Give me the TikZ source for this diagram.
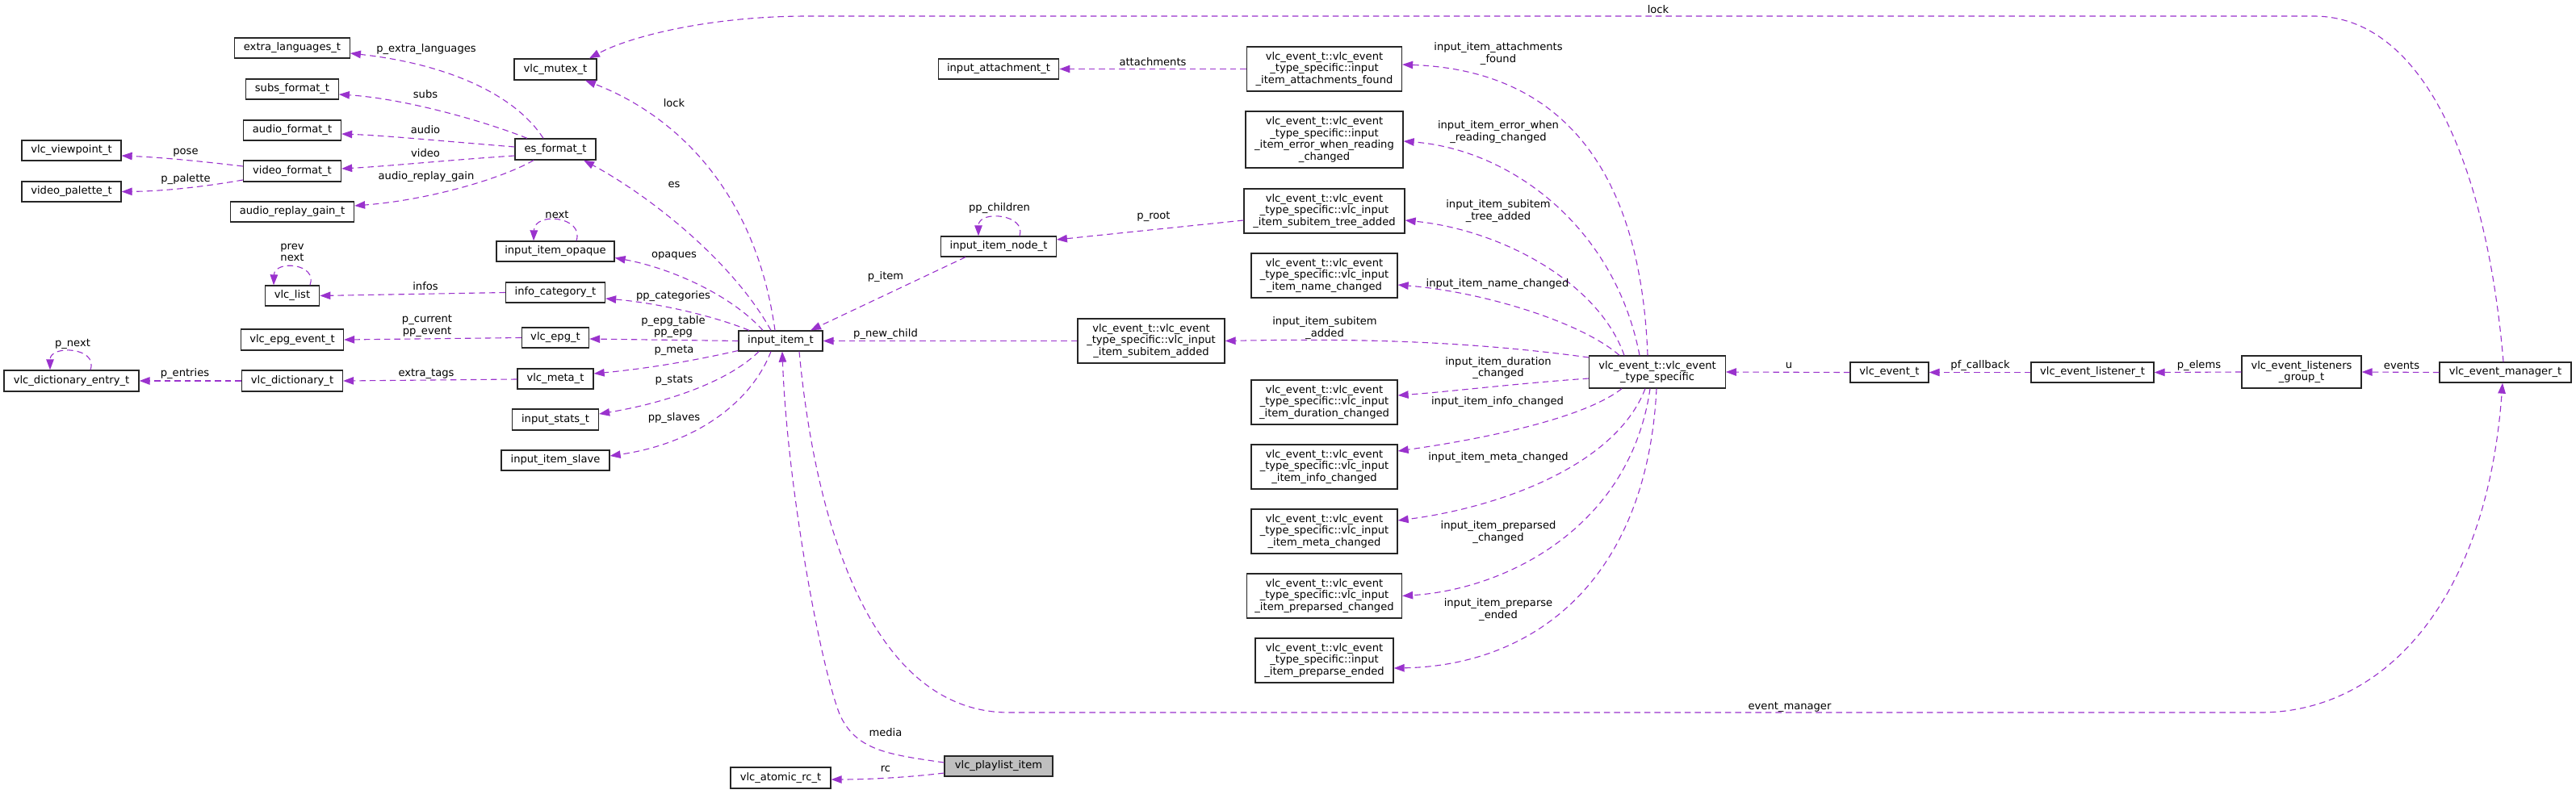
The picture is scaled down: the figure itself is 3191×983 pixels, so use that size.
\documentclass[tikz,border=0pt]{standalone}
\usepackage{fontspec}
\setmainfont{DejaVu Sans}
\usetikzlibrary{arrows.meta}
\definecolor{edgec}{HTML}{9A32CD}
\definecolor{hl}{HTML}{BFBFBF}
\tikzset{
  cls/.style={draw=black!85, line width=1.3pt, fill=white, inner sep=0pt, align=center, font=\fontsize{13.1}{14.7}\selectfont, text=black},
  rel/.style={draw=edgec, line width=1.1pt, dash pattern=on 7.5pt off 5pt, -{Triangle[length=13pt,width=9.5pt]}},
  lbl/.style={font=\fontsize{13.1}{14.7}\selectfont, inner sep=0pt, align=center, text=black},
}
\newcommand{\mybox}[6]{\node[cls, minimum width=#4pt, minimum height=#5pt] (#1) at (#2,#3) {#6};}
\begin{document}
\begin{tikzpicture}[x=1pt,y=-1pt]
\fill[white] (0,0) rectangle (3191,983);
\useasboundingbox (0,0) rectangle (3191,983);
% nodes
\mybox{viewpoint}{88.5}{186.5}{123}{25}{vlc\_viewpoint\_t}
\mybox{palette}{88.5}{237.5}{123}{25}{video\_palette\_t}
\mybox{dentry}{88.5}{472}{167}{26}{vlc\_dictionary\_entry\_t}
\mybox{extra}{362}{59.5}{142.5}{25}{extra\_languages\_t}
\mybox{subs}{362}{110.5}{114.5}{25}{subs\_format\_t}
\mybox{afmt}{362}{161.5}{121}{25}{audio\_format\_t}
\mybox{vfmt}{362}{212}{121}{26}{video\_format\_t}
\mybox{arg}{362}{262.5}{153}{25}{audio\_replay\_gain\_t}
\mybox{vlist}{362}{366.5}{67.5}{25}{vlc\_list}
\mybox{epgev}{362}{421}{127}{26}{vlc\_epg\_event\_t}
\mybox{dict}{362}{472}{125}{26}{vlc\_dictionary\_t}
\mybox{mutex}{688}{86}{102}{26}{vlc\_mutex\_t}
\mybox{es}{688}{185}{100}{26}{es\_format\_t}
\mybox{opaque}{688}{311.5}{146}{25}{input\_item\_opaque}
\mybox{info}{688}{362.5}{123}{25}{info\_category\_t}
\mybox{epg}{688}{418.5}{83}{25}{vlc\_epg\_t}
\mybox{meta}{688}{469.5}{94}{25}{vlc\_meta\_t}
\mybox{stats}{688}{520}{107}{26}{input\_stats\_t}
\mybox{slave}{688}{570.5}{134}{25}{input\_item\_slave}
\mybox{item}{967}{422.5}{104}{25}{input\_item\_t}
\mybox{rc}{967}{964}{124}{26}{vlc\_atomic\_rc\_t}
\mybox{attach}{1237}{85.5}{149.5}{25}{input\_attachment\_t}
\mybox{inode}{1237}{305.5}{142.5}{25}{input\_item\_node\_t}
\node[cls, fill=hl, minimum width=134pt, minimum height=25pt] (playlist) at (1237,949.5) {vlc\_playlist\_item};
\mybox{subadd}{1426}{422.5}{182}{55}{vlc\_event\_t::vlc\_event\\\_type\_specific::vlc\_input\\\_item\_subitem\_added}
\mybox{attfound}{1640.5}{85.5}{192}{55}{vlc\_event\_t::vlc\_event\\\_type\_specific::input\\\_item\_attachments\_found}
\mybox{err}{1640.5}{173}{195}{70}{vlc\_event\_t::vlc\_event\\\_type\_specific::input\\\_item\_error\_when\_reading\\\_changed}
\mybox{tree}{1640.5}{261.5}{199}{55}{vlc\_event\_t::vlc\_event\\\_type\_specific::vlc\_input\\\_item\_subitem\_tree\_added}
\mybox{namech}{1640.5}{341.5}{181}{55}{vlc\_event\_t::vlc\_event\\\_type\_specific::vlc\_input\\\_item\_name\_changed}
\mybox{durch}{1640.5}{498.5}{181}{55}{vlc\_event\_t::vlc\_event\\\_type\_specific::vlc\_input\\\_item\_duration\_changed}
\mybox{infoch}{1640.5}{578.5}{181}{55}{vlc\_event\_t::vlc\_event\\\_type\_specific::vlc\_input\\\_item\_info\_changed}
\mybox{metach}{1640.5}{658.5}{181}{55}{vlc\_event\_t::vlc\_event\\\_type\_specific::vlc\_input\\\_item\_meta\_changed}
\mybox{prepch}{1640.5}{738.5}{192}{55}{vlc\_event\_t::vlc\_event\\\_type\_specific::vlc\_input\\\_item\_preparsed\_changed}
\mybox{prepend}{1640.5}{818.5}{171}{55}{vlc\_event\_t::vlc\_event\\\_type\_specific::input\\\_item\_preparse\_ended}
\mybox{ts}{2053}{461}{168.5}{40}{vlc\_event\_t::vlc\_event\\\_type\_specific}
\mybox{evt}{2340.5}{461.5}{97}{25}{vlc\_event\_t}
\mybox{lst}{2592}{461.5}{152}{25}{vlc\_event\_listener\_t}
\mybox{grp}{2851}{461}{148}{40}{vlc\_event\_listeners\\\_group\_t}
\mybox{mgr}{3103.5}{461.5}{163}{25}{vlc\_event\_manager\_t}
% es_format_t members
\draw[rel] ([xshift=-15pt]es.north) .. controls (640,120) and (560,80) .. ([yshift=-6.5pt]extra.east);
\node[lbl] at (528,61) {p\_extra\_languages};
\draw[rel] ([xshift=-35pt]es.north) .. controls (600,150) and (500,122) .. ([yshift=-6.5pt]subs.east);
\node[lbl] at (527,117) {subs};
\draw[rel] ([yshift=3pt]es.west) .. controls (560,176) and (480,168) .. ([yshift=-4.5pt]afmt.east);
\node[lbl] at (527,161) {audio};
\draw[rel] ([yshift=-8pt]es.west) .. controls (560,198) and (480,206) .. ([yshift=3pt]vfmt.east);
\node[lbl] at (527,190) {video};
\draw[rel] ([xshift=-27pt]es.south) .. controls (620,222) and (530,248) .. ([yshift=7.5pt]arg.east);
\node[lbl] at (528,219) {audio\_replay\_gain};
% video_format_t members
\draw[rel] ([yshift=6pt]vfmt.west) .. controls (250,200) and (200,195) .. ([yshift=-6.5pt]viewpoint.east);
\node[lbl] at (230,189) {pose};
\draw[rel] ([yshift=-11pt]vfmt.west) .. controls (250,232) and (200,237) .. (palette.east);
\node[lbl] at (230,222) {p\_palette};
% self loops
\draw[rel] ([xshift=26pt]opaque.north) .. controls (724,268) and (662,262) .. ([xshift=-27pt]opaque.north);
\node[lbl] at (690,266) {next};
\draw[rel] ([xshift=22pt]vlist.north) .. controls (394,326) and (340,322) .. ([xshift=-23pt]vlist.north);
\node[lbl] at (362,313) {prev\\next};
\draw[rel] ([xshift=23.5pt]dentry.north) .. controls (122,430) and (62,427) .. ([xshift=-26.5pt]dentry.north);
\node[lbl] at (90,426) {p\_next};
\draw[rel] ([xshift=26pt]inode.north) .. controls (1272,265) and (1212,260) .. ([xshift=-25pt]inode.north);
\node[lbl] at (1238,258) {pp\_children};
% column C to B
\draw[rel] (info.west) -- (vlist.east);
\node[lbl] at (527,355) {infos};
\draw[rel] (epg.west) -- (epgev.east);
\node[lbl] at (529,404) {p\_current\\pp\_event};
\draw[rel] (dict.west) -- (dentry.east);
\node[lbl] at (229,463) {p\_entries};
\draw[rel] ([yshift=-0.5pt]meta.west) -- (dict.east);
\node[lbl] at (528,463) {extra\_tags};
% input_item_t members
\draw[rel] ([xshift=-7pt]item.north) .. controls (935,230) and (830,140) .. ([xshift=37pt]mutex.south);
\node[lbl] at (835,128) {lock};
\draw[rel] ([xshift=-12pt]item.north) .. controls (905,320) and (800,240) .. ([xshift=35pt]es.south);
\node[lbl] at (835,229) {es};
\draw[rel] ([xshift=-22pt]item.north) .. controls (905,365) and (830,332) .. ([yshift=-8pt]opaque.east);
\node[lbl] at (835,317) {opaques};
\draw[rel] ([xshift=-39pt]item.north) .. controls (880,390) and (810,375) .. ([yshift=-7.5pt]info.east);
\node[lbl] at (834,367) {pp\_categories};
\draw[rel] (item.west) -- ([yshift=-1.5pt]epg.east);
\node[lbl] at (834,405) {p\_epg\_table\\pp\_epg};
\draw[rel] ([yshift=-12pt]item.west) .. controls (860,447) and (800,457) .. ([yshift=6.5pt]meta.east);
\node[lbl] at (835,434) {p\_meta};
\draw[rel] ([xshift=-27pt]item.south) .. controls (900,475) and (820,500) .. ([yshift=7pt]stats.east);
\node[lbl] at (835,471) {p\_stats};
\draw[rel] ([xshift=-12pt]item.south) .. controls (930,500) and (860,550) .. ([yshift=5.5pt]slave.east);
\node[lbl] at (835,518) {pp\_slaves};
\draw[rel] ([xshift=-41pt]inode.south) -- ([xshift=37pt]item.north);
\node[lbl] at (1097,343) {p\_item};
\draw[rel] (subadd.west) -- (item.east);
\node[lbl] at (1097,414) {p\_new\_child};
% vlc_playlist_item
\coordinate (md1) at (1040,885);
\draw[rel] ([yshift=4.5pt]playlist.west) .. controls (1100,935) and (1060,930) .. (md1) .. controls (1015,820) and (975,600) .. ([xshift=2pt]item.south);
\node[lbl] at (1097,908) {media};
\draw[rel] ([yshift=-8.5pt]playlist.west) .. controls (1120,964) and (1070,966) .. ([yshift=-2pt]rc.east);
\node[lbl] at (1097,953) {rc};
% event manager
\coordinate (em1) at (1250,883);
\coordinate (em2) at (2800,883);
\draw[rel] ([xshift=23pt]item.south) .. controls (1010,650) and (1080,883) .. (em1) -- (em2) .. controls (2950,883) and (3080,750) .. ([xshift=-3.5pt]mgr.south);
\node[lbl] at (2217,876) {event\_manager};
\coordinate (lk1) at (2866,20);
\coordinate (lk2) at (1000,20);
\draw[rel] ([xshift=-2.5pt]mgr.north) .. controls (3080,200) and (3000,20) .. (lk1) -- (lk2) .. controls (880,20) and (780,45) .. ([xshift=42pt]mutex.north);
\node[lbl] at (2054,12) {lock};
% event type specific members
\draw[rel] ([xshift=-12pt]ts.north) .. controls (2030,150) and (1880,85) .. ([yshift=5.5pt]attfound.east);
\node[lbl] at (1856,66.5) {input\_item\_attachments\\\_found};
\draw[rel] ([xshift=-22pt]ts.north) .. controls (2000,280) and (1870,185) .. ([yshift=-2pt]err.east);
\node[lbl] at (1856,163.5) {input\_item\_error\_when\\\_reading\_changed};
\draw[rel] ([xshift=-41pt]ts.north) .. controls (1980,350) and (1860,285) .. ([yshift=-11.5pt]tree.east);
\node[lbl] at (1856,261.5) {input\_item\_subitem\\\_tree\_added};
\draw[rel] ([xshift=-47pt]ts.north) .. controls (1960,400) and (1840,362) .. ([yshift=-11.5pt]namech.east);
\node[lbl] at (1855,352) {input\_item\_name\_changed};
\draw[rel] ([yshift=18pt]ts.west) .. controls (1800,420) and (1650,420) .. (subadd.east);
\node[lbl] at (1641,406.5) {input\_item\_subitem\\\_added};
\draw[rel] ([yshift=-8pt]ts.west) .. controls (1880,475) and (1800,485) .. ([yshift=8.5pt]durch.east);
\node[lbl] at (1856,456) {input\_item\_duration\\\_changed};
\draw[rel] ([xshift=-44pt]ts.south) .. controls (1960,520) and (1830,545) .. ([yshift=19.5pt]infoch.east);
\node[lbl] at (1855,498) {input\_item\_info\_changed};
\draw[rel] ([xshift=-15pt]ts.south) .. controls (2000,580) and (1850,630) .. ([yshift=13.5pt]metach.east);
\node[lbl] at (1856,567) {input\_item\_meta\_changed};
\draw[rel] ([xshift=-9pt]ts.south) .. controls (2020,650) and (1870,730) .. (prepch.east);
\node[lbl] at (1856,659.5) {input\_item\_preparsed\\\_changed};
\draw[rel] ([xshift=-1pt]ts.south) .. controls (2040,720) and (1900,825) .. ([yshift=-9.5pt]prepend.east);
\node[lbl] at (1856,755.5) {input\_item\_preparse\\\_ended};
% others
\draw[rel] (attfound.west) -- (attach.east);
\node[lbl] at (1428,77) {attachments};
\draw[rel] ([yshift=-11.5pt]tree.west) -- ([yshift=8.5pt]inode.east);
\node[lbl] at (1429,268) {p\_root};
\draw[rel] (evt.west) -- (ts.east);
\node[lbl] at (2216,453) {u};
\draw[rel] (lst.west) -- (evt.east);
\node[lbl] at (2453,453) {pf\_callback};
\draw[rel] (grp.west) -- (lst.east);
\node[lbl] at (2724,453) {p\_elems};
\draw[rel] (mgr.west) -- (grp.east);
\node[lbl] at (2975,453) {events};
\end{tikzpicture}
\end{document}
